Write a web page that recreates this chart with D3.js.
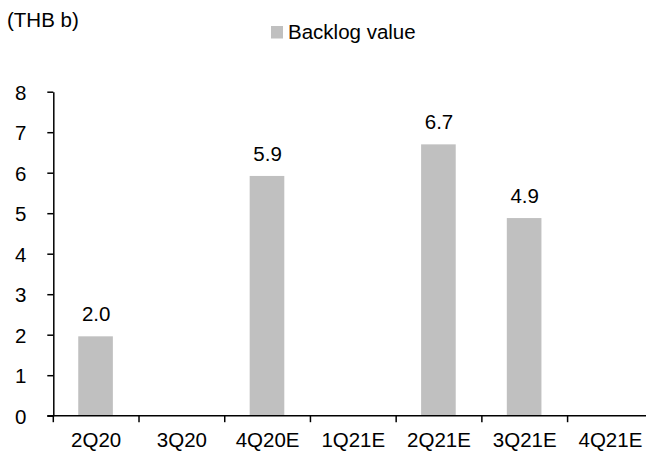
<!DOCTYPE html>
<html>
<head>
<meta charset="utf-8">
<script src="https://cdn.jsdelivr.net/npm/d3@7"></script>
<style>
  html, body { margin: 0; padding: 0; background: #fff; }
  svg { display: block; font-family: "Liberation Sans", Arial, sans-serif; }
</style>
</head>
<body>
<svg id="chart" width="646" height="459"></svg>
<script>
// Quarterly backlog (THB b); empty quarters carry no bar
const quarters = ["2Q20", "3Q20", "4Q20E", "1Q21E", "2Q21E", "3Q21E", "4Q21E"];
const backlog = [1.96, null, 5.92, null, 6.7, 4.88, null];
const yTicks = [0, 1, 2, 3, 4, 5, 6, 7, 8];
const unitLabel = "(THB b)";
const seriesName = "Backlog value";

const svg = d3.select("#chart");
const barColor = "#c0c0c0";
const fontSize = 20.5;

const xCat = d3.scaleBand().domain(quarters).range([53.3, 653.3]);
const y = d3.scaleLinear().domain([0, 8]).range([415.7, 91.7]);
const barW = xCat.bandwidth() * 0.404;

// Bars
const rows = quarters.map((q, i) => ({ q, v: backlog[i] })).filter(d => d.v != null);
svg.append("g").selectAll("rect").data(rows).join("rect")
  .attr("x", d => xCat(d.q) + xCat.bandwidth() / 2 - barW / 2 - 0.6)
  .attr("width", barW)
  .attr("y", d => y(d.v))
  .attr("height", d => y(0) - y(d.v))
  .attr("fill", barColor);

// Value labels
svg.append("g").selectAll("text").data(rows).join("text")
  .attr("x", d => xCat(d.q) + xCat.bandwidth() / 2)
  .attr("y", d => y(d.v) - 15)
  .attr("text-anchor", "middle")
  .attr("font-size", fontSize)
  .attr("fill", "#000")
  .text(d => d3.format(".1f")(d.v));

// Y axis
const yAxis = svg.append("g").attr("transform", "translate(53.3,0)")
  .call(d3.axisLeft(y).tickValues(yTicks).tickFormat(d3.format("d")).tickSize(6).tickSizeOuter(0));
yAxis.select(".domain").attr("stroke", "#000").attr("stroke-width", 1.5);
yAxis.selectAll(".tick line").attr("stroke", "#000").attr("stroke-width", 1.5);
yAxis.selectAll(".tick text")
  .attr("x", -27).attr("dy", "0.36em")
  .attr("font-size", fontSize).attr("font-family", "Liberation Sans, Arial, sans-serif").attr("fill", "#000");

// X axis: ticks sit on category boundaries
const xAxisG = svg.append("g").attr("transform", "translate(0,415.7)");
xAxisG.append("line")
  .attr("x1", 47.3).attr("x2", 646)
  .attr("stroke", "#000").attr("stroke-width", 1.5);
xAxisG.selectAll("line.tk").data(quarters).join("line")
  .attr("class", "tk")
  .attr("x1", d => xCat(d)).attr("x2", d => xCat(d))
  .attr("y1", 0).attr("y2", 6.5)
  .attr("stroke", "#000").attr("stroke-width", 1.5);
xAxisG.selectAll("text").data(quarters).join("text")
  .attr("x", d => xCat(d) + xCat.bandwidth() / 2)
  .attr("y", 31)
  .attr("text-anchor", "middle")
  .attr("font-size", fontSize)
  .attr("fill", "#000")
  .text(d => d);

// Unit label
svg.append("text")
  .attr("x", 7).attr("y", 26.5)
  .attr("font-size", fontSize)
  .attr("fill", "#000")
  .text(unitLabel);

// Legend
const lg = svg.append("g").attr("transform", "translate(271,26)");
lg.append("rect").attr("width", 12).attr("height", 12.5).attr("fill", barColor);
lg.append("text").attr("x", 17).attr("y", 12.5)
  .attr("font-size", fontSize).attr("fill", "#000")
  .text(seriesName);
</script>
</body>
</html>
